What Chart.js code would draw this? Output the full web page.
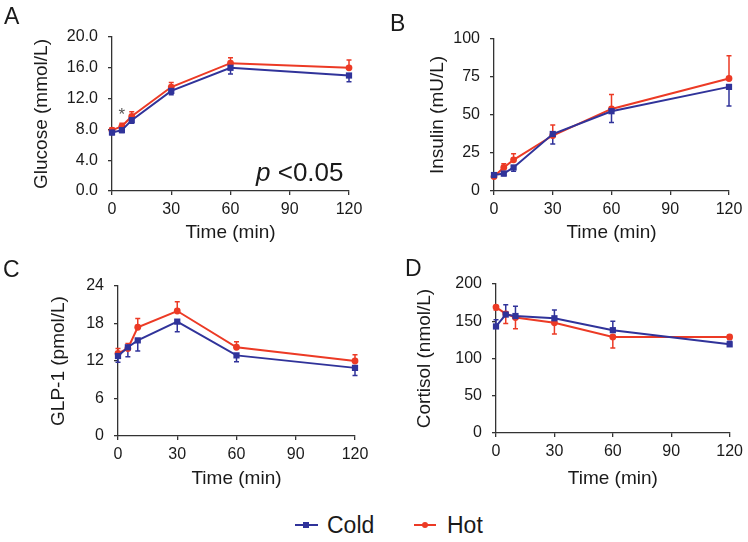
<!DOCTYPE html>
<html>
<head>
<meta charset="utf-8">
<script src="https://cdn.jsdelivr.net/npm/chart.js@4.4.0/dist/chart.umd.min.js"></script>
<style>
  body { margin: 0; background: #fff; }
  #fig { position: relative; width: 748px; height: 542px; overflow: hidden; font-family: "Liberation Sans", Arial, sans-serif; color: #1a1a1a; }
  #fig canvas { position: absolute; }
  .tag { position: absolute; font-size: 23px; line-height: 1; }
  .pval { position: absolute; font-size: 26px; line-height: 1; }
  #legend { position: absolute; top: 511px; left: 0; width: 748px; height: 28px; font-size: 23px; }
  .key { position: absolute; top: 0; line-height: 28px; }
  .swatch { position: absolute; top: 13px; height: 2px; }
  .mark { position: absolute; }
</style>
</head>
<body>
<div id="fig">
  <canvas id="cA" width="374" height="245" style="left:0;top:0"></canvas>
  <canvas id="cB" width="374" height="245" style="left:374px;top:0"></canvas>
  <canvas id="cC" width="374" height="245" style="left:0;top:245px"></canvas>
  <canvas id="cD" width="374" height="245" style="left:374px;top:245px"></canvas>

  <div class="tag" style="left:4px;top:5px">A</div>
  <div class="tag" style="left:390px;top:12px">B</div>
  <div class="tag" style="left:3px;top:258px">C</div>
  <div class="tag" style="left:405px;top:257px">D</div>

  <div class="pval" style="left:256px;top:159px"><i>p</i> &lt;0.05</div>

  <div id="legend">
    <div class="swatch" style="left:295px;width:23px;background:#30339a"></div>
    <div class="mark" style="left:303px;top:11px;width:6px;height:6px;background:#30339a"></div>
    <div class="key" style="left:327px">Cold</div>
    <div class="swatch" style="left:414px;width:22px;background:#ec3a25"></div>
    <div class="mark" style="left:422px;top:11px;width:6px;height:6px;border-radius:3px;background:#ec3a25"></div>
    <div class="key" style="left:447px">Hot</div>
  </div>
</div>

<script>
// sampling times (min)
const times = [0, 5, 10, 30, 60, 120];

// A - glucose (mmol/L)
const glucoseCold = [7.6, 7.9, 9.2, 13.0, 16.0, 15.0];
const glucoseColdErr = [0.3, 0.3, 0.4, 0.5, 0.8, 0.8];
const glucoseHot = [7.9, 8.4, 9.7, 13.5, 16.6, 16.0];
const glucoseHotErr = [0.3, 0.4, 0.6, 0.6, 0.7, 1.0];
const glucoseStars = [5];

// B - insulin (mU/L)
const insulinCold = [10.5, 11.5, 15.5, 37.5, 52.5, 68.5];
const insulinColdErr = [1.5, 1.5, 2.5, 6.5, 7.5, 12.5];
const insulinHot = [9.5, 15.5, 20.5, 36.5, 54, 74];
const insulinHotErr = [1.5, 2.5, 4, 7, 9.5, 15];

// C - GLP-1 (pmol/L)
const glpCold = [12.8, 14.2, 15.3, 18.3, 12.9, 10.9];
const glpColdErr = [1.0, 1.5, 1.7, 1.6, 1.0, 1.2];
const glpHot = [13.2, 14.0, 17.4, 20.0, 14.2, 12.0];
const glpHotErr = [0.8, 0.8, 1.4, 1.5, 0.9, 1.0];

// D - cortisol (nmol/L)
const cortisolCold = [143, 159, 157, 154, 138, 119];
const cortisolColdErr = [9, 13, 13, 11, 12, 4];
const cortisolHot = [169, 160, 155, 148, 129, 129];
const cortisolHotErr = [4, 13, 15, 15, 15, 3];

const BLUE = '#30339a';
const RED = '#ec3a25';
const INK = '#333333';

Chart.defaults.font.family = '"Liberation Sans", Arial, sans-serif';
Chart.defaults.color = '#1a1a1a';

function pts(ys) {
    return times.map((t, i) => ({ x: t, y: ys[i] }));
}

// error bars: each dataset carries errs + direction (1 = up, -1 = down)
const errorBars = {
    id: 'errorBars',
    beforeDatasetsDraw(chart) {
        const ctx = chart.ctx;
        const xs = chart.scales.x, ys = chart.scales.y;
        chart.data.datasets.forEach(ds => {
            if (!ds.errs) return;
            ctx.save();
            ctx.strokeStyle = ds.borderColor;
            ctx.lineWidth = 1.5;
            ds.data.forEach((p, i) => {
                const px = xs.getPixelForValue(p.x);
                const y0 = ys.getPixelForValue(p.y);
                const y1 = ys.getPixelForValue(p.y + ds.dir * ds.errs[i]);
                ctx.beginPath();
                ctx.moveTo(px, y0);
                ctx.lineTo(px, y1);
                ctx.moveTo(px - 2.5, y1);
                ctx.lineTo(px + 2.5, y1);
                ctx.stroke();
            });
            ctx.restore();
        });
    },
    afterDatasetsDraw(chart, args, opts) {
        if (!opts.stars) return;
        const ctx = chart.ctx;
        const xs = chart.scales.x, ys = chart.scales.y;
        const hot = chart.data.datasets[1];
        ctx.save();
        ctx.fillStyle = '#555';
        ctx.font = '17px "Liberation Sans", Arial, sans-serif';
        ctx.textAlign = 'center';
        ctx.textBaseline = 'middle';
        opts.stars.forEach(t => {
            const i = times.indexOf(t);
            const top = hot.data[i].y + hot.errs[i];
            ctx.fillText('*', xs.getPixelForValue(t), ys.getPixelForValue(top) - 8);
        });
        ctx.restore();
    }
};

function makePanel(id, p) {
    new Chart(document.getElementById(id), {
        type: 'line',
        data: {
            datasets: [
                {
                    label: 'Cold',
                    data: pts(p.cold),
                    errs: p.coldErr,
                    dir: p.coldDir,
                    borderColor: BLUE,
                    backgroundColor: BLUE,
                    borderWidth: 2,
                    pointStyle: 'rect',
                    pointRadius: 4.4,
                    pointBorderWidth: 0,
                    order: 0,
                    clip: false
                },
                {
                    label: 'Hot',
                    data: pts(p.hot),
                    errs: p.hotErr,
                    dir: p.hotDir,
                    borderColor: RED,
                    backgroundColor: RED,
                    borderWidth: 2,
                    pointStyle: 'circle',
                    pointRadius: 3.4,
                    pointBorderWidth: 0,
                    order: 1,
                    clip: false
                }
            ]
        },
        options: {
            responsive: false,
            animation: false,
            layout: { padding: p.pad },
            scales: {
                x: {
                    type: 'linear',
                    min: 0,
                    max: 120,
                    border: { display: true, color: INK, width: 1.3 },
                    grid: { drawOnChartArea: false, drawTicks: true, tickLength: 4, color: INK, lineWidth: 1.3 },
                    ticks: { stepSize: 30, font: { size: 16 }, color: '#1a1a1a', padding: 5, maxRotation: 0 },
                    title: { display: true, text: 'Time (min)', font: { size: 19 }, color: '#1a1a1a', padding: 0 },
                    afterFit(s) { s.height = p.xHeight; }
                },
                y: {
                    min: p.yMin,
                    max: p.yMax,
                    border: { display: true, color: INK, width: 1.3 },
                    grid: { drawOnChartArea: false, drawTicks: true, tickLength: 4, color: INK, lineWidth: 1.3 },
                    ticks: {
                        stepSize: p.yStep,
                        font: { size: 16 },
                        color: '#1a1a1a',
                        padding: 10,
                        callback: v => v.toFixed(p.decimals)
                    },
                    title: { display: true, text: p.yTitle, font: { size: 19 }, color: '#1a1a1a', padding: 0 },
                    afterFit(s) { s.width = p.yWidth; }
                }
            },
            plugins: {
                legend: { display: false },
                tooltip: { enabled: false },
                errorBars: { stars: p.stars || null }
            }
        },
        plugins: [errorBars]
    });
}

makePanel('cA', {
    cold: glucoseCold, coldErr: glucoseColdErr, coldDir: -1,
    hot: glucoseHot, hotErr: glucoseHotErr, hotDir: 1,
    stars: glucoseStars,
    yMin: 0, yMax: 20, yStep: 4, decimals: 1, yTitle: 'Glucose (mmol/L)',
    pad: { left: 30, top: 37, right: 25, bottom: 1 }, yWidth: 82, xHeight: 53
});

makePanel('cB', {
    cold: insulinCold, coldErr: insulinColdErr, coldDir: -1,
    hot: insulinHot, hotErr: insulinHotErr, hotDir: 1,
    yMin: 0, yMax: 100, yStep: 25, decimals: 0, yTitle: 'Insulin (mU/L)',
    pad: { left: 52, top: 39, right: 19, bottom: 1 }, yWidth: 68, xHeight: 53
});

makePanel('cC', {
    cold: glpCold, coldErr: glpColdErr, coldDir: -1,
    hot: glpHot, hotErr: glpHotErr, hotDir: 1,
    yMin: 0, yMax: 24, yStep: 6, decimals: 0, yTitle: 'GLP-1 (pmol/L)',
    pad: { left: 47, top: 41, right: 19, bottom: 0 }, yWidth: 71, xHeight: 54
});

makePanel('cD', {
    cold: cortisolCold, coldErr: cortisolColdErr, coldDir: 1,
    hot: cortisolHot, hotErr: cortisolHotErr, hotDir: -1,
    yMin: 0, yMax: 200, yStep: 50, decimals: 0, yTitle: 'Cortisol (nmol/L)',
    pad: { left: 39, top: 39, right: 15, bottom: 0 }, yWidth: 83, xHeight: 57
});
</script>
</body>
</html>
